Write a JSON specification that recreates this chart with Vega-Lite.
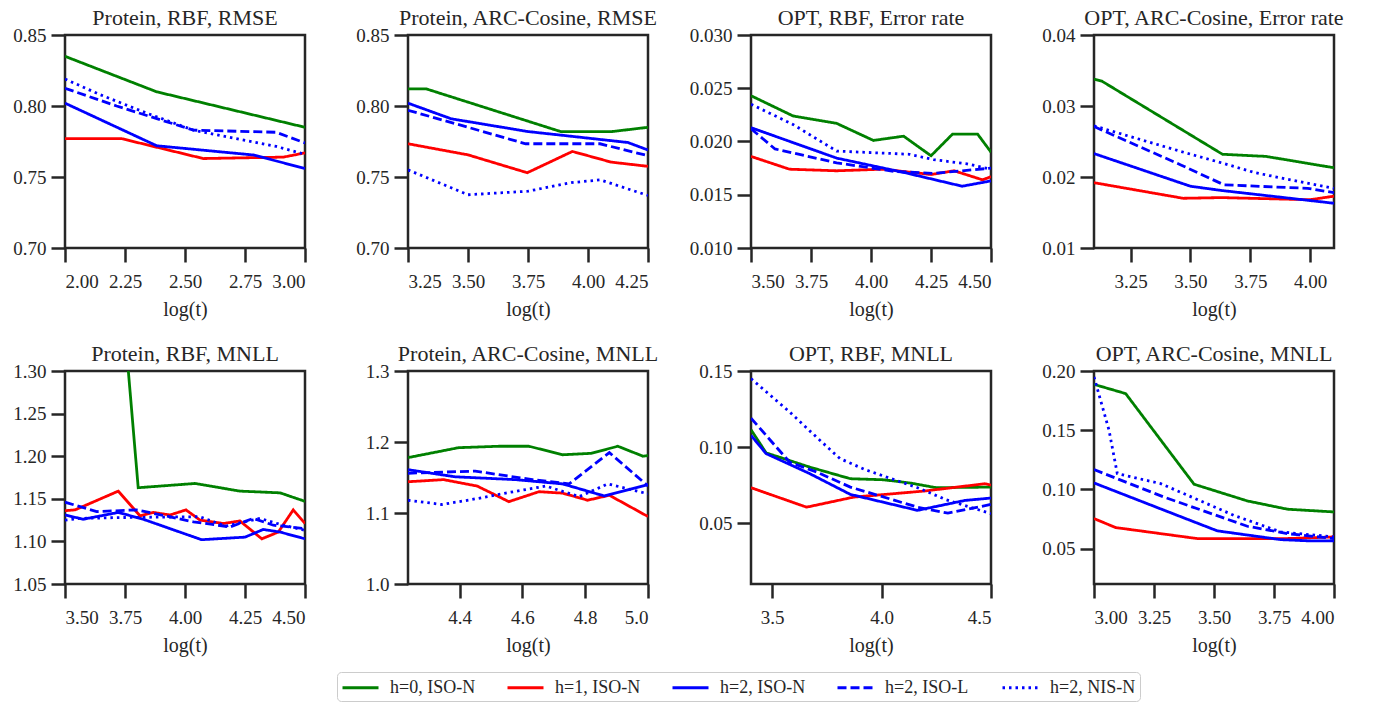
{
  "$schema": "https://vega.github.io/schema/vega-lite/v6.json",
  "padding": {"left": 11, "top": 5, "right": 10, "bottom": 2},
  "background": "white",
  "columns": 4,
  "spacing": {"row": 123, "column": 103},
  "bounds": "flush",
  "datasets": {
    "d": [
      {"p":"p1","s":"h=0, ISO-N","x":2.0,"y":0.835},{"p":"p1","s":"h=0, ISO-N","x":2.382,"y":0.810},{"p":"p1","s":"h=0, ISO-N","x":3.0,"y":0.785},
      {"p":"p1","s":"h=1, ISO-N","x":2.0,"y":0.777},{"p":"p1","s":"h=1, ISO-N","x":2.236,"y":0.777},{"p":"p1","s":"h=1, ISO-N","x":2.576,"y":0.763},{"p":"p1","s":"h=1, ISO-N","x":2.91,"y":0.764},{"p":"p1","s":"h=1, ISO-N","x":3.0,"y":0.767},
      {"p":"p1","s":"h=2, ISO-N","x":2.0,"y":0.802},{"p":"p1","s":"h=2, ISO-N","x":2.382,"y":0.772},{"p":"p1","s":"h=2, ISO-N","x":2.785,"y":0.7655},{"p":"p1","s":"h=2, ISO-N","x":3.0,"y":0.756},
      {"p":"p1","s":"h=2, ISO-L","x":2.0,"y":0.8125},{"p":"p1","s":"h=2, ISO-L","x":2.215,"y":0.800},{"p":"p1","s":"h=2, ISO-L","x":2.535,"y":0.783},{"p":"p1","s":"h=2, ISO-L","x":2.88,"y":0.7815},{"p":"p1","s":"h=2, ISO-L","x":3.0,"y":0.774},
      {"p":"p1","s":"h=2, NIS-N","x":2.0,"y":0.819},{"p":"p1","s":"h=2, NIS-N","x":2.146,"y":0.808},{"p":"p1","s":"h=2, NIS-N","x":2.34,"y":0.795},{"p":"p1","s":"h=2, NIS-N","x":2.535,"y":0.783},{"p":"p1","s":"h=2, NIS-N","x":2.88,"y":0.7715},{"p":"p1","s":"h=2, NIS-N","x":3.0,"y":0.766},

      {"p":"p2","s":"h=0, ISO-N","x":3.25,"y":0.812},{"p":"p2","s":"h=0, ISO-N","x":3.327,"y":0.812},{"p":"p2","s":"h=0, ISO-N","x":3.886,"y":0.782},{"p":"p2","s":"h=0, ISO-N","x":4.10,"y":0.782},{"p":"p2","s":"h=0, ISO-N","x":4.25,"y":0.785},
      {"p":"p2","s":"h=1, ISO-N","x":3.25,"y":0.7734},{"p":"p2","s":"h=1, ISO-N","x":3.5,"y":0.7656},{"p":"p2","s":"h=1, ISO-N","x":3.747,"y":0.753},{"p":"p2","s":"h=1, ISO-N","x":3.935,"y":0.768},{"p":"p2","s":"h=1, ISO-N","x":4.096,"y":0.7605},{"p":"p2","s":"h=1, ISO-N","x":4.25,"y":0.7575},
      {"p":"p2","s":"h=2, ISO-N","x":3.25,"y":0.802},{"p":"p2","s":"h=2, ISO-N","x":3.43,"y":0.791},{"p":"p2","s":"h=2, ISO-N","x":3.75,"y":0.782},{"p":"p2","s":"h=2, ISO-N","x":3.94,"y":0.7785},{"p":"p2","s":"h=2, ISO-N","x":4.166,"y":0.7743},{"p":"p2","s":"h=2, ISO-N","x":4.25,"y":0.769},
      {"p":"p2","s":"h=2, ISO-L","x":3.25,"y":0.797},{"p":"p2","s":"h=2, ISO-L","x":3.5,"y":0.785},{"p":"p2","s":"h=2, ISO-L","x":3.74,"y":0.7734},{"p":"p2","s":"h=2, ISO-L","x":4.05,"y":0.7734},{"p":"p2","s":"h=2, ISO-L","x":4.25,"y":0.765},
      {"p":"p2","s":"h=2, NIS-N","x":3.25,"y":0.755},{"p":"p2","s":"h=2, NIS-N","x":3.5,"y":0.7375},{"p":"p2","s":"h=2, NIS-N","x":3.75,"y":0.740},{"p":"p2","s":"h=2, NIS-N","x":3.93,"y":0.746},{"p":"p2","s":"h=2, NIS-N","x":4.05,"y":0.748},{"p":"p2","s":"h=2, NIS-N","x":4.25,"y":0.737},

      {"p":"p3","s":"h=0, ISO-N","x":3.5,"y":0.0243},{"p":"p3","s":"h=0, ISO-N","x":3.675,"y":0.0224},{"p":"p3","s":"h=0, ISO-N","x":3.857,"y":0.0217},{"p":"p3","s":"h=0, ISO-N","x":4.01,"y":0.0201},{"p":"p3","s":"h=0, ISO-N","x":4.136,"y":0.0205},{"p":"p3","s":"h=0, ISO-N","x":4.25,"y":0.01866},{"p":"p3","s":"h=0, ISO-N","x":4.34,"y":0.0207},{"p":"p3","s":"h=0, ISO-N","x":4.444,"y":0.0207},{"p":"p3","s":"h=0, ISO-N","x":4.5,"y":0.019},
      {"p":"p3","s":"h=1, ISO-N","x":3.5,"y":0.0186},{"p":"p3","s":"h=1, ISO-N","x":3.66,"y":0.0174},{"p":"p3","s":"h=1, ISO-N","x":3.857,"y":0.01725},{"p":"p3","s":"h=1, ISO-N","x":4.05,"y":0.0174},{"p":"p3","s":"h=1, ISO-N","x":4.25,"y":0.0169},{"p":"p3","s":"h=1, ISO-N","x":4.346,"y":0.01725},{"p":"p3","s":"h=1, ISO-N","x":4.465,"y":0.0164},{"p":"p3","s":"h=1, ISO-N","x":4.5,"y":0.0167},
      {"p":"p3","s":"h=2, ISO-N","x":3.5,"y":0.0213},{"p":"p3","s":"h=2, ISO-N","x":3.857,"y":0.01844},{"p":"p3","s":"h=2, ISO-N","x":4.136,"y":0.0171},{"p":"p3","s":"h=2, ISO-N","x":4.38,"y":0.0158},{"p":"p3","s":"h=2, ISO-N","x":4.5,"y":0.0163},
      {"p":"p3","s":"h=2, ISO-L","x":3.5,"y":0.0212},{"p":"p3","s":"h=2, ISO-L","x":3.6,"y":0.0193},{"p":"p3","s":"h=2, ISO-L","x":3.857,"y":0.0180},{"p":"p3","s":"h=2, ISO-L","x":4.094,"y":0.0172},{"p":"p3","s":"h=2, ISO-L","x":4.26,"y":0.0170},{"p":"p3","s":"h=2, ISO-L","x":4.5,"y":0.0175},
      {"p":"p3","s":"h=2, NIS-N","x":3.5,"y":0.0235},{"p":"p3","s":"h=2, NIS-N","x":3.675,"y":0.0216},{"p":"p3","s":"h=2, NIS-N","x":3.857,"y":0.0191},{"p":"p3","s":"h=2, NIS-N","x":4.16,"y":0.0188},{"p":"p3","s":"h=2, NIS-N","x":4.26,"y":0.0183},{"p":"p3","s":"h=2, NIS-N","x":4.40,"y":0.0179},{"p":"p3","s":"h=2, NIS-N","x":4.5,"y":0.0174},

      {"p":"p4","s":"h=0, ISO-N","x":3.097,"y":0.0338},{"p":"p4","s":"h=0, ISO-N","x":3.13,"y":0.0335},{"p":"p4","s":"h=0, ISO-N","x":3.634,"y":0.0232},{"p":"p4","s":"h=0, ISO-N","x":3.816,"y":0.0229},{"p":"p4","s":"h=0, ISO-N","x":4.1,"y":0.0213},
      {"p":"p4","s":"h=1, ISO-N","x":3.097,"y":0.0192},{"p":"p4","s":"h=1, ISO-N","x":3.47,"y":0.0170},{"p":"p4","s":"h=1, ISO-N","x":3.63,"y":0.0171},{"p":"p4","s":"h=1, ISO-N","x":4.0,"y":0.0168},{"p":"p4","s":"h=1, ISO-N","x":4.1,"y":0.0173},
      {"p":"p4","s":"h=2, ISO-N","x":3.097,"y":0.0233},{"p":"p4","s":"h=2, ISO-N","x":3.5,"y":0.0187},{"p":"p4","s":"h=2, ISO-N","x":3.63,"y":0.0181},{"p":"p4","s":"h=2, ISO-N","x":4.1,"y":0.0163},
      {"p":"p4","s":"h=2, ISO-L","x":3.097,"y":0.0271},{"p":"p4","s":"h=2, ISO-L","x":3.46,"y":0.0217},{"p":"p4","s":"h=2, ISO-L","x":3.64,"y":0.0189},{"p":"p4","s":"h=2, ISO-L","x":3.99,"y":0.0184},{"p":"p4","s":"h=2, ISO-L","x":4.1,"y":0.0178},
      {"p":"p4","s":"h=2, NIS-N","x":3.097,"y":0.0272},{"p":"p4","s":"h=2, NIS-N","x":3.46,"y":0.0236},{"p":"p4","s":"h=2, NIS-N","x":3.63,"y":0.0220},{"p":"p4","s":"h=2, NIS-N","x":3.77,"y":0.0206},{"p":"p4","s":"h=2, NIS-N","x":4.1,"y":0.0184},

      {"p":"p5","s":"h=0, ISO-N","x":3.5,"y":2.18},{"p":"p5","s":"h=0, ISO-N","x":3.805,"y":1.163},{"p":"p5","s":"h=0, ISO-N","x":4.042,"y":1.168},{"p":"p5","s":"h=0, ISO-N","x":4.229,"y":1.159},{"p":"p5","s":"h=0, ISO-N","x":4.396,"y":1.157},{"p":"p5","s":"h=0, ISO-N","x":4.5,"y":1.147},
      {"p":"p5","s":"h=1, ISO-N","x":3.5,"y":1.136},{"p":"p5","s":"h=1, ISO-N","x":3.542,"y":1.137},{"p":"p5","s":"h=1, ISO-N","x":3.722,"y":1.159},{"p":"p5","s":"h=1, ISO-N","x":3.8125,"y":1.130},{"p":"p5","s":"h=1, ISO-N","x":3.868,"y":1.134},{"p":"p5","s":"h=1, ISO-N","x":3.9375,"y":1.131},{"p":"p5","s":"h=1, ISO-N","x":4.004,"y":1.137},{"p":"p5","s":"h=1, ISO-N","x":4.0625,"y":1.125},{"p":"p5","s":"h=1, ISO-N","x":4.16,"y":1.121},{"p":"p5","s":"h=1, ISO-N","x":4.229,"y":1.124},{"p":"p5","s":"h=1, ISO-N","x":4.32,"y":1.103},{"p":"p5","s":"h=1, ISO-N","x":4.389,"y":1.111},{"p":"p5","s":"h=1, ISO-N","x":4.451,"y":1.137},{"p":"p5","s":"h=1, ISO-N","x":4.5,"y":1.121},
      {"p":"p5","s":"h=2, ISO-N","x":3.5,"y":1.131},{"p":"p5","s":"h=2, ISO-N","x":3.576,"y":1.126},{"p":"p5","s":"h=2, ISO-N","x":3.722,"y":1.134},{"p":"p5","s":"h=2, ISO-N","x":3.826,"y":1.126},{"p":"p5","s":"h=2, ISO-N","x":4.069,"y":1.102},{"p":"p5","s":"h=2, ISO-N","x":4.25,"y":1.105},{"p":"p5","s":"h=2, ISO-N","x":4.326,"y":1.114},{"p":"p5","s":"h=2, ISO-N","x":4.396,"y":1.111},{"p":"p5","s":"h=2, ISO-N","x":4.5,"y":1.103},
      {"p":"p5","s":"h=2, ISO-L","x":3.5,"y":1.146},{"p":"p5","s":"h=2, ISO-L","x":3.632,"y":1.135},{"p":"p5","s":"h=2, ISO-L","x":3.799,"y":1.137},{"p":"p5","s":"h=2, ISO-L","x":4.035,"y":1.123},{"p":"p5","s":"h=2, ISO-L","x":4.1875,"y":1.117},{"p":"p5","s":"h=2, ISO-L","x":4.285,"y":1.127},{"p":"p5","s":"h=2, ISO-L","x":4.368,"y":1.119},{"p":"p5","s":"h=2, ISO-L","x":4.5,"y":1.115},
      {"p":"p5","s":"h=2, NIS-N","x":3.5,"y":1.125},{"p":"p5","s":"h=2, NIS-N","x":3.56,"y":1.127},{"p":"p5","s":"h=2, NIS-N","x":3.736,"y":1.128},{"p":"p5","s":"h=2, NIS-N","x":4.06,"y":1.129},{"p":"p5","s":"h=2, NIS-N","x":4.17,"y":1.118},{"p":"p5","s":"h=2, NIS-N","x":4.3125,"y":1.127},{"p":"p5","s":"h=2, NIS-N","x":4.396,"y":1.120},{"p":"p5","s":"h=2, NIS-N","x":4.5,"y":1.113},

      {"p":"p6","s":"h=0, ISO-N","x":4.236,"y":1.178},{"p":"p6","s":"h=0, ISO-N","x":4.397,"y":1.192},{"p":"p6","s":"h=0, ISO-N","x":4.525,"y":1.194},{"p":"p6","s":"h=0, ISO-N","x":4.621,"y":1.194},{"p":"p6","s":"h=0, ISO-N","x":4.728,"y":1.182},{"p":"p6","s":"h=0, ISO-N","x":4.818,"y":1.184},{"p":"p6","s":"h=0, ISO-N","x":4.904,"y":1.194},{"p":"p6","s":"h=0, ISO-N","x":4.984,"y":1.180},{"p":"p6","s":"h=0, ISO-N","x":5.0,"y":1.181},
      {"p":"p6","s":"h=1, ISO-N","x":4.236,"y":1.144},{"p":"p6","s":"h=1, ISO-N","x":4.349,"y":1.147},{"p":"p6","s":"h=1, ISO-N","x":4.456,"y":1.138},{"p":"p6","s":"h=1, ISO-N","x":4.557,"y":1.116},{"p":"p6","s":"h=1, ISO-N","x":4.653,"y":1.130},{"p":"p6","s":"h=1, ISO-N","x":4.728,"y":1.128},{"p":"p6","s":"h=1, ISO-N","x":4.808,"y":1.118},{"p":"p6","s":"h=1, ISO-N","x":4.877,"y":1.125},{"p":"p6","s":"h=1, ISO-N","x":5.0,"y":1.095},
      {"p":"p6","s":"h=2, ISO-N","x":4.236,"y":1.161},{"p":"p6","s":"h=2, ISO-N","x":4.386,"y":1.151},{"p":"p6","s":"h=2, ISO-N","x":4.578,"y":1.147},{"p":"p6","s":"h=2, ISO-N","x":4.728,"y":1.141},{"p":"p6","s":"h=2, ISO-N","x":4.861,"y":1.124},{"p":"p6","s":"h=2, ISO-N","x":5.0,"y":1.140},
      {"p":"p6","s":"h=2, ISO-L","x":4.236,"y":1.156},{"p":"p6","s":"h=2, ISO-L","x":4.45,"y":1.159},{"p":"p6","s":"h=2, ISO-L","x":4.632,"y":1.147},{"p":"p6","s":"h=2, ISO-L","x":4.749,"y":1.141},{"p":"p6","s":"h=2, ISO-L","x":4.877,"y":1.185},{"p":"p6","s":"h=2, ISO-L","x":5.0,"y":1.138},
      {"p":"p6","s":"h=2, NIS-N","x":4.236,"y":1.118},{"p":"p6","s":"h=2, NIS-N","x":4.344,"y":1.112},{"p":"p6","s":"h=2, NIS-N","x":4.44,"y":1.119},{"p":"p6","s":"h=2, NIS-N","x":4.547,"y":1.128},{"p":"p6","s":"h=2, NIS-N","x":4.675,"y":1.138},{"p":"p6","s":"h=2, NIS-N","x":4.781,"y":1.123},{"p":"p6","s":"h=2, NIS-N","x":4.872,"y":1.141},{"p":"p6","s":"h=2, NIS-N","x":5.0,"y":1.127},

      {"p":"p7","s":"h=0, ISO-N","x":3.403,"y":0.1114},{"p":"p7","s":"h=0, ISO-N","x":3.472,"y":0.0962},{"p":"p7","s":"h=0, ISO-N","x":3.672,"y":0.0868},{"p":"p7","s":"h=0, ISO-N","x":3.857,"y":0.0792},{"p":"p7","s":"h=0, ISO-N","x":4.01,"y":0.0785},{"p":"p7","s":"h=0, ISO-N","x":4.134,"y":0.0763},{"p":"p7","s":"h=0, ISO-N","x":4.249,"y":0.0733},{"p":"p7","s":"h=0, ISO-N","x":4.5,"y":0.0737},
      {"p":"p7","s":"h=1, ISO-N","x":3.403,"y":0.0733},{"p":"p7","s":"h=1, ISO-N","x":3.657,"y":0.0605},{"p":"p7","s":"h=1, ISO-N","x":3.872,"y":0.0671},{"p":"p7","s":"h=1, ISO-N","x":4.195,"y":0.0711},{"p":"p7","s":"h=1, ISO-N","x":4.472,"y":0.0759},{"p":"p7","s":"h=1, ISO-N","x":4.5,"y":0.0750},
      {"p":"p7","s":"h=2, ISO-N","x":3.403,"y":0.1077},{"p":"p7","s":"h=2, ISO-N","x":3.472,"y":0.0957},{"p":"p7","s":"h=2, ISO-N","x":3.672,"y":0.0825},{"p":"p7","s":"h=2, ISO-N","x":3.857,"y":0.0689},{"p":"p7","s":"h=2, ISO-N","x":4.164,"y":0.0584},{"p":"p7","s":"h=2, ISO-N","x":4.38,"y":0.0649},{"p":"p7","s":"h=2, ISO-N","x":4.5,"y":0.0665},
      {"p":"p7","s":"h=2, ISO-L","x":3.403,"y":0.119},{"p":"p7","s":"h=2, ISO-L","x":3.58,"y":0.090},{"p":"p7","s":"h=2, ISO-L","x":3.703,"y":0.0836},{"p":"p7","s":"h=2, ISO-L","x":3.857,"y":0.0737},{"p":"p7","s":"h=2, ISO-L","x":4.164,"y":0.0605},{"p":"p7","s":"h=2, ISO-L","x":4.303,"y":0.0566},{"p":"p7","s":"h=2, ISO-L","x":4.5,"y":0.0623},
      {"p":"p7","s":"h=2, NIS-N","x":3.403,"y":0.145},{"p":"p7","s":"h=2, NIS-N","x":3.58,"y":0.123},{"p":"p7","s":"h=2, NIS-N","x":3.71,"y":0.1055},{"p":"p7","s":"h=2, NIS-N","x":3.81,"y":0.0924},{"p":"p7","s":"h=2, NIS-N","x":3.926,"y":0.0851},{"p":"p7","s":"h=2, NIS-N","x":4.057,"y":0.0786},{"p":"p7","s":"h=2, NIS-N","x":4.164,"y":0.0733},{"p":"p7","s":"h=2, NIS-N","x":4.295,"y":0.0654},{"p":"p7","s":"h=2, NIS-N","x":4.5,"y":0.0562},

      {"p":"p8","s":"h=0, ISO-N","x":3.0,"y":0.1887},{"p":"p8","s":"h=0, ISO-N","x":3.132,"y":0.1809},{"p":"p8","s":"h=0, ISO-N","x":3.417,"y":0.1043},{"p":"p8","s":"h=0, ISO-N","x":3.639,"y":0.0902},{"p":"p8","s":"h=0, ISO-N","x":3.806,"y":0.0832},{"p":"p8","s":"h=0, ISO-N","x":4.0,"y":0.0809},
      {"p":"p8","s":"h=1, ISO-N","x":3.0,"y":0.0753},{"p":"p8","s":"h=1, ISO-N","x":3.09,"y":0.0677},{"p":"p8","s":"h=1, ISO-N","x":3.43,"y":0.0584},{"p":"p8","s":"h=1, ISO-N","x":3.806,"y":0.0584},{"p":"p8","s":"h=1, ISO-N","x":4.0,"y":0.0598},
      {"p":"p8","s":"h=2, ISO-N","x":3.0,"y":0.1054},{"p":"p8","s":"h=2, ISO-N","x":3.417,"y":0.0725},{"p":"p8","s":"h=2, ISO-N","x":3.514,"y":0.0649},{"p":"p8","s":"h=2, ISO-N","x":3.778,"y":0.0575},{"p":"p8","s":"h=2, ISO-N","x":3.903,"y":0.0564},{"p":"p8","s":"h=2, ISO-N","x":4.0,"y":0.0564},
      {"p":"p8","s":"h=2, ISO-L","x":3.0,"y":0.1167},{"p":"p8","s":"h=2, ISO-L","x":3.29,"y":0.0936},{"p":"p8","s":"h=2, ISO-L","x":3.639,"y":0.0688},{"p":"p8","s":"h=2, ISO-L","x":3.806,"y":0.0626},{"p":"p8","s":"h=2, ISO-L","x":4.0,"y":0.0584},
      {"p":"p8","s":"h=2, NIS-N","x":3.0,"y":0.195},{"p":"p8","s":"h=2, NIS-N","x":3.0625,"y":0.150},{"p":"p8","s":"h=2, NIS-N","x":3.097,"y":0.1133},{"p":"p8","s":"h=2, NIS-N","x":3.278,"y":0.1048},{"p":"p8","s":"h=2, NIS-N","x":3.583,"y":0.078},{"p":"p8","s":"h=2, NIS-N","x":3.778,"y":0.064},{"p":"p8","s":"h=2, NIS-N","x":4.0,"y":0.0598}
    ]
  },
  "data": {"name": "d"},
  "concat": [
    {
      "title": "Protein, RBF, RMSE", "width": 240, "height": 213,
      "transform": [{"filter": "datum.p == 'p1'"}],
      "mark": {"type": "line", "clip": true},
      "encoding": {
        "x": {"field": "x", "type": "quantitative", "title": "log(t)", "scale": {"domain": [2, 3], "nice": false, "zero": false}, "axis": {"values": [2, 2.25, 2.5, 2.75, 3], "format": ".2f"}},
        "y": {"field": "y", "type": "quantitative", "title": null, "scale": {"domain": [0.70, 0.85], "nice": false, "zero": false}, "axis": {"values": [0.70, 0.75, 0.80, 0.85], "format": ".2f"}},
        "color": {"field": "s", "type": "nominal", "title": null, "scale": {"domain": ["h=0, ISO-N", "h=1, ISO-N", "h=2, ISO-N", "h=2, ISO-L", "h=2, NIS-N"], "range": ["#008000", "#ff0000", "#0000ff", "#0000ff", "#0000ff"]}},
        "strokeDash": {"field": "s", "type": "nominal", "title": null, "scale": {"domain": ["h=0, ISO-N", "h=1, ISO-N", "h=2, ISO-N", "h=2, ISO-L", "h=2, NIS-N"], "range": [[1, 0], [1, 0], [1, 0], [9, 4], [2.5, 4]]}}
      }
    },
    {
      "title": "Protein, ARC-Cosine, RMSE", "width": 240, "height": 213,
      "transform": [{"filter": "datum.p == 'p2'"}],
      "mark": {"type": "line", "clip": true},
      "encoding": {
        "x": {"field": "x", "type": "quantitative", "title": "log(t)", "scale": {"domain": [3.25, 4.25], "nice": false, "zero": false}, "axis": {"values": [3.25, 3.5, 3.75, 4, 4.25], "format": ".2f"}},
        "y": {"field": "y", "type": "quantitative", "title": null, "scale": {"domain": [0.70, 0.85], "nice": false, "zero": false}, "axis": {"values": [0.70, 0.75, 0.80, 0.85], "format": ".2f"}},
        "color": {"field": "s", "type": "nominal", "title": null, "scale": {"domain": ["h=0, ISO-N", "h=1, ISO-N", "h=2, ISO-N", "h=2, ISO-L", "h=2, NIS-N"], "range": ["#008000", "#ff0000", "#0000ff", "#0000ff", "#0000ff"]}},
        "strokeDash": {"field": "s", "type": "nominal", "title": null, "scale": {"domain": ["h=0, ISO-N", "h=1, ISO-N", "h=2, ISO-N", "h=2, ISO-L", "h=2, NIS-N"], "range": [[1, 0], [1, 0], [1, 0], [9, 4], [2.5, 4]]}}
      }
    },
    {
      "title": "OPT, RBF, Error rate", "width": 240, "height": 213,
      "transform": [{"filter": "datum.p == 'p3'"}],
      "mark": {"type": "line", "clip": true},
      "encoding": {
        "x": {"field": "x", "type": "quantitative", "title": "log(t)", "scale": {"domain": [3.5, 4.5], "nice": false, "zero": false}, "axis": {"values": [3.5, 3.75, 4, 4.25, 4.5], "format": ".2f"}},
        "y": {"field": "y", "type": "quantitative", "title": null, "scale": {"domain": [0.010, 0.030], "nice": false, "zero": false}, "axis": {"values": [0.010, 0.015, 0.020, 0.025, 0.030], "format": ".3f"}},
        "color": {"field": "s", "type": "nominal", "title": null, "scale": {"domain": ["h=0, ISO-N", "h=1, ISO-N", "h=2, ISO-N", "h=2, ISO-L", "h=2, NIS-N"], "range": ["#008000", "#ff0000", "#0000ff", "#0000ff", "#0000ff"]}},
        "strokeDash": {"field": "s", "type": "nominal", "title": null, "scale": {"domain": ["h=0, ISO-N", "h=1, ISO-N", "h=2, ISO-N", "h=2, ISO-L", "h=2, NIS-N"], "range": [[1, 0], [1, 0], [1, 0], [9, 4], [2.5, 4]]}}
      }
    },
    {
      "title": "OPT, ARC-Cosine, Error rate", "width": 240, "height": 213,
      "transform": [{"filter": "datum.p == 'p4'"}],
      "mark": {"type": "line", "clip": true},
      "encoding": {
        "x": {"field": "x", "type": "quantitative", "title": "log(t)", "scale": {"domain": [3.097, 4.1], "nice": false, "zero": false}, "axis": {"values": [3.25, 3.5, 3.75, 4], "format": ".2f"}},
        "y": {"field": "y", "type": "quantitative", "title": null, "scale": {"domain": [0.01, 0.04], "nice": false, "zero": false}, "axis": {"values": [0.01, 0.02, 0.03, 0.04], "format": ".2f"}},
        "color": {"field": "s", "type": "nominal", "title": null, "scale": {"domain": ["h=0, ISO-N", "h=1, ISO-N", "h=2, ISO-N", "h=2, ISO-L", "h=2, NIS-N"], "range": ["#008000", "#ff0000", "#0000ff", "#0000ff", "#0000ff"]}},
        "strokeDash": {"field": "s", "type": "nominal", "title": null, "scale": {"domain": ["h=0, ISO-N", "h=1, ISO-N", "h=2, ISO-N", "h=2, ISO-L", "h=2, NIS-N"], "range": [[1, 0], [1, 0], [1, 0], [9, 4], [2.5, 4]]}}
      }
    },
    {
      "title": "Protein, RBF, MNLL", "width": 240, "height": 213,
      "transform": [{"filter": "datum.p == 'p5'"}],
      "mark": {"type": "line", "clip": true},
      "encoding": {
        "x": {"field": "x", "type": "quantitative", "title": "log(t)", "scale": {"domain": [3.5, 4.5], "nice": false, "zero": false}, "axis": {"values": [3.5, 3.75, 4, 4.25, 4.5], "format": ".2f"}},
        "y": {"field": "y", "type": "quantitative", "title": null, "scale": {"domain": [1.05, 1.30], "nice": false, "zero": false}, "axis": {"values": [1.05, 1.10, 1.15, 1.20, 1.25, 1.30], "format": ".2f"}},
        "color": {"field": "s", "type": "nominal", "title": null, "scale": {"domain": ["h=0, ISO-N", "h=1, ISO-N", "h=2, ISO-N", "h=2, ISO-L", "h=2, NIS-N"], "range": ["#008000", "#ff0000", "#0000ff", "#0000ff", "#0000ff"]}},
        "strokeDash": {"field": "s", "type": "nominal", "title": null, "scale": {"domain": ["h=0, ISO-N", "h=1, ISO-N", "h=2, ISO-N", "h=2, ISO-L", "h=2, NIS-N"], "range": [[1, 0], [1, 0], [1, 0], [9, 4], [2.5, 4]]}}
      }
    },
    {
      "title": "Protein, ARC-Cosine, MNLL", "width": 240, "height": 213,
      "transform": [{"filter": "datum.p == 'p6'"}],
      "mark": {"type": "line", "clip": true},
      "encoding": {
        "x": {"field": "x", "type": "quantitative", "title": "log(t)", "scale": {"domain": [4.236, 5.0], "nice": false, "zero": false}, "axis": {"values": [4.4, 4.6, 4.8, 5.0], "format": ".1f"}},
        "y": {"field": "y", "type": "quantitative", "title": null, "scale": {"domain": [1.0, 1.3], "nice": false, "zero": false}, "axis": {"values": [1.0, 1.1, 1.2, 1.3], "format": ".1f"}},
        "color": {"field": "s", "type": "nominal", "title": null, "scale": {"domain": ["h=0, ISO-N", "h=1, ISO-N", "h=2, ISO-N", "h=2, ISO-L", "h=2, NIS-N"], "range": ["#008000", "#ff0000", "#0000ff", "#0000ff", "#0000ff"]}},
        "strokeDash": {"field": "s", "type": "nominal", "title": null, "scale": {"domain": ["h=0, ISO-N", "h=1, ISO-N", "h=2, ISO-N", "h=2, ISO-L", "h=2, NIS-N"], "range": [[1, 0], [1, 0], [1, 0], [9, 4], [2.5, 4]]}}
      }
    },
    {
      "title": "OPT, RBF, MNLL", "width": 240, "height": 213,
      "transform": [{"filter": "datum.p == 'p7'"}],
      "mark": {"type": "line", "clip": true},
      "encoding": {
        "x": {"field": "x", "type": "quantitative", "title": "log(t)", "scale": {"domain": [3.403, 4.5], "nice": false, "zero": false}, "axis": {"values": [3.5, 4.0, 4.5], "format": ".1f"}},
        "y": {"field": "y", "type": "quantitative", "title": null, "scale": {"domain": [0.01, 0.15], "nice": false, "zero": false}, "axis": {"values": [0.05, 0.10, 0.15], "format": ".2f"}},
        "color": {"field": "s", "type": "nominal", "title": null, "scale": {"domain": ["h=0, ISO-N", "h=1, ISO-N", "h=2, ISO-N", "h=2, ISO-L", "h=2, NIS-N"], "range": ["#008000", "#ff0000", "#0000ff", "#0000ff", "#0000ff"]}},
        "strokeDash": {"field": "s", "type": "nominal", "title": null, "scale": {"domain": ["h=0, ISO-N", "h=1, ISO-N", "h=2, ISO-N", "h=2, ISO-L", "h=2, NIS-N"], "range": [[1, 0], [1, 0], [1, 0], [9, 4], [2.5, 4]]}}
      }
    },
    {
      "title": "OPT, ARC-Cosine, MNLL", "width": 240, "height": 213,
      "transform": [{"filter": "datum.p == 'p8'"}],
      "mark": {"type": "line", "clip": true},
      "encoding": {
        "x": {"field": "x", "type": "quantitative", "title": "log(t)", "scale": {"domain": [3.0, 4.0], "nice": false, "zero": false}, "axis": {"values": [3, 3.25, 3.5, 3.75, 4], "format": ".2f"}},
        "y": {"field": "y", "type": "quantitative", "title": null, "scale": {"domain": [0.02, 0.20], "nice": false, "zero": false}, "axis": {"values": [0.05, 0.10, 0.15, 0.20], "format": ".2f"}},
        "color": {"field": "s", "type": "nominal", "title": null, "scale": {"domain": ["h=0, ISO-N", "h=1, ISO-N", "h=2, ISO-N", "h=2, ISO-L", "h=2, NIS-N"], "range": ["#008000", "#ff0000", "#0000ff", "#0000ff", "#0000ff"]}},
        "strokeDash": {"field": "s", "type": "nominal", "title": null, "scale": {"domain": ["h=0, ISO-N", "h=1, ISO-N", "h=2, ISO-N", "h=2, ISO-L", "h=2, NIS-N"], "range": [[1, 0], [1, 0], [1, 0], [9, 4], [2.5, 4]]}}
      }
    }
  ],
  "config": {
    "font": "Liberation Serif",
    "view": {"stroke": "#262626", "strokeWidth": 2.5},
    "axis": {"domain": false, "grid": false, "tickSize": 14, "tickWidth": 2.5, "tickColor": "#262626", "labelFont": "Liberation Serif", "labelFontSize": 19, "labelColor": "#262626", "labelPadding": 5, "titleFont": "Liberation Serif", "titleFontSize": 20, "titleFontWeight": "normal", "titleColor": "#262626", "titlePadding": 8},
    "axisX": {"labelPadding": 10},
    "title": {"font": "Liberation Serif", "fontSize": 22, "fontWeight": "normal", "color": "#262626", "baseline": "alphabetic", "frame": "group", "offset": -4},
    "line": {"strokeWidth": 2.8},
    "legend": {"orient": "none", "legendX": 272, "legendY": 637, "direction": "horizontal", "columns": 5, "symbolType": "M-1.8,0H1.8", "symbolSize": 400, "symbolOffset": 8, "symbolStrokeWidth": 2.8, "labelFont": "Liberation Serif", "labelFontSize": 18, "labelColor": "#262626", "strokeColor": "#cccccc", "cornerRadius": 4, "padding": 4, "columnPadding": 25, "labelOffset": 18, "gridAlign": "all", "fillColor": "white"}
  }
}
